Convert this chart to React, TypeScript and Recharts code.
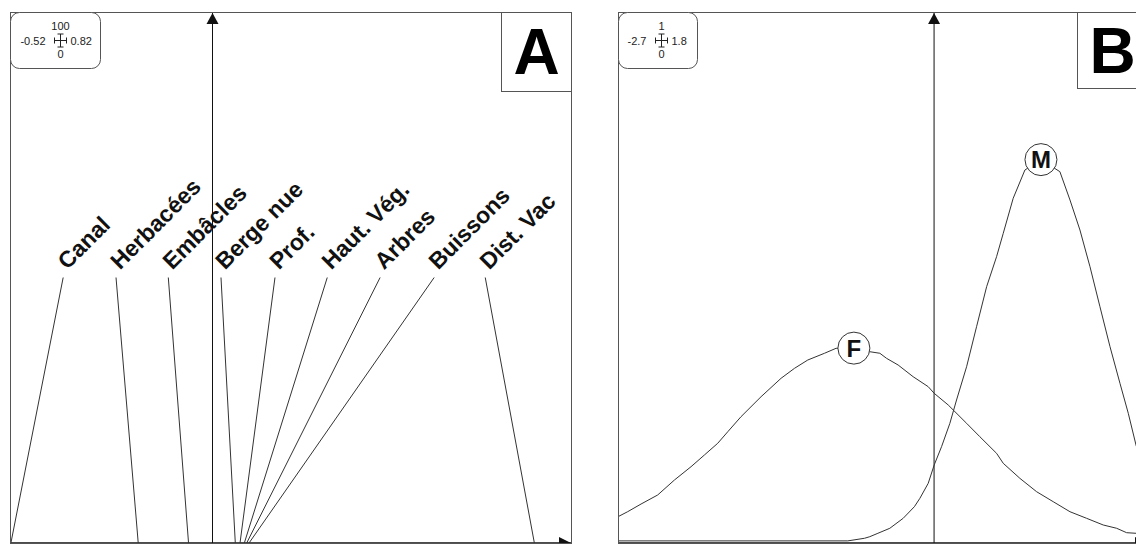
import React from 'react';
import { ComposedChart, Line, Scatter, XAxis, YAxis, ReferenceLine } from 'recharts';

// panel A: variable scores and the evenly spread label slots
const varNames = ['Canal', 'Herbacées', 'Embâcles', 'Berge nue', 'Prof.', 'Haut. Vég.', 'Arbres', 'Buissons', 'Dist. Vac'];
const varScores = [-0.513, -0.189, -0.061, 0.058, 0.07, 0.081, 0.087, 0.093, 0.819];
const varSlots = [-0.38, -0.2455, -0.1125, 0.0216, 0.159, 0.292, 0.4265, 0.564, 0.694];
const slotHeight = 50;
const rangeA = ['-0.52', '0.82', '0', '100'];

// panel B: gaussian curves of the two groups
const groupNames = ['F', 'M'];
const fX = [-2.7, -2.617, -2.503, -2.361, -2.218, -2.076, -1.962, -1.848, -1.762, -1.649, -1.478, -1.307, -1.192, -1.079, -0.936, -0.837, -0.685, -0.551, -0.463, -0.406, -0.307, -0.179, -0.05, 0.001, 0.121, 0.278, 0.391, 0.534, 0.591, 0.733, 0.876, 1.018, 1.161, 1.303, 1.445, 1.56, 1.645, 1.725, 1.8];
const fY = [0.0495, 0.059, 0.0734, 0.0904, 0.1186, 0.1437, 0.1657, 0.1878, 0.2096, 0.2379, 0.2755, 0.3102, 0.329, 0.3446, 0.3573, 0.3667, 0.367, 0.3603, 0.3573, 0.3478, 0.3352, 0.3132, 0.2944, 0.2819, 0.2599, 0.2254, 0.2002, 0.1689, 0.1501, 0.1218, 0.0966, 0.0778, 0.0589, 0.0465, 0.0339, 0.0277, 0.0194, 0.0183, 0.015];
const mX = [-2.7, -0.737, -0.594, -0.549, -0.48, -0.378, -0.264, -0.168, -0.121, -0.05, 0.001, 0.064, 0.135, 0.192, 0.278, 0.363, 0.449, 0.534, 0.591, 0.676, 0.776, 0.913, 1.075, 1.161, 1.246, 1.332, 1.417, 1.503, 1.588, 1.659, 1.725, 1.8];
const mY = [0.004, 0.004, 0.0089, 0.0119, 0.0183, 0.0277, 0.0465, 0.0684, 0.0842, 0.1124, 0.1469, 0.1814, 0.2254, 0.2693, 0.332, 0.4073, 0.4827, 0.5392, 0.5832, 0.6492, 0.7024, 0.722, 0.6993, 0.646, 0.5895, 0.5203, 0.445, 0.3697, 0.3008, 0.2443, 0.1846, 0.13];
const groupPeaks = [{ x: -0.685, y: 0.367 }, { x: 0.913, y: 0.722 }];
const rangeB = ['-2.7', '1.8', '0', '1'];

const FONT = '"Liberation Sans", Arial, Helvetica, sans-serif';
const INK = '#222';
const EDGE = '#555';

const domainA: [number, number] = [-0.5153, 0.9122];
const domainB: [number, number] = [-2.7, 1.819];

const fData = fX.map((x, i) => ({ x, y: fY[i] }));
const mData = mX.map((x, i) => ({ x, y: mY[i] }));

const arrowShape = (p: any) => {
  const { cx, cy, payload } = p;
  if (payload.dir === 'up') {
    return <polygon points={`${cx},${cy + 1} ${cx - 6},${cy + 12} ${cx + 6},${cy + 12}`} fill="#111" />;
  }
  return <polygon points={`${cx},${cy} ${cx - 12},${cy - 6} ${cx - 12},${cy + 6}`} fill="#111" />;
};

const slotLabel = (p: any) => {
  const { cx, cy, payload } = p;
  const x = cx + 4;
  const y = cy - 7;
  return (
    <text x={x} y={y} transform={`rotate(-45 ${x} ${y})`} fontFamily={FONT} fontWeight="bold" fontSize={23} fill="#111">
      {payload.name}
    </text>
  );
};

const peakLabel = (p: any) => {
  const { cx, cy, payload } = p;
  return (
    <g>
      <circle cx={cx} cy={cy} r={16} fill="#fff" stroke="#333" strokeWidth={1} />
      <text x={cx} y={cy + 8.5} textAnchor="middle" fontFamily={FONT} fontWeight="bold" fontSize={24} fill="#111">
        {payload.name}
      </text>
    </g>
  );
};

const RangeBox = ({ x, w, cx, labels }: { x: number; w: number; cx: number; labels: string[] }) => (
  <g fontFamily={FONT} fontSize={11} fill={INK}>
    <rect x={x} y={12.5} width={w} height={56} rx={9} fill="#fff" stroke={EDGE} />
    <text x={cx} y={29.5} textAnchor="middle">{labels[3]}</text>
    <text x={cx - 15} y={44.5} textAnchor="end">{labels[0]}</text>
    <text x={cx + 10} y={44.5} textAnchor="start">{labels[1]}</text>
    <text x={cx} y={57.5} textAnchor="middle">{labels[2]}</text>
    <g stroke={INK} strokeWidth={1}>
      <line x1={cx - 6} y1={40.5} x2={cx + 6} y2={40.5} />
      <line x1={cx - 6} y1={37.5} x2={cx - 6} y2={43.5} />
      <line x1={cx + 6} y1={37.5} x2={cx + 6} y2={43.5} />
      <line x1={cx} y1={34} x2={cx} y2={47} />
      <line x1={cx - 3} y1={34} x2={cx + 3} y2={34} />
      <line x1={cx - 3} y1={47} x2={cx + 3} y2={47} />
    </g>
  </g>
);

const PanelA = () => (
  <div style={{ position: 'absolute', left: 0, top: 0 }}>
    <ComposedChart width={580} height={545} margin={{ top: 12, right: 9, bottom: 2, left: 10 }}>
      <XAxis type="number" dataKey="x" domain={domainA} hide allowDataOverflow />
      <YAxis type="number" dataKey="y" domain={[0, 100]} hide allowDataOverflow />
      <ReferenceLine x={0} stroke="#111" strokeWidth={1} />
      <ReferenceLine y={0} stroke="#111" strokeWidth={1.5} />
      {varNames.map((name, i) => (
        <Line
          key={name}
          data={[{ x: varScores[i], y: 0 }, { x: varSlots[i], y: slotHeight }]}
          dataKey="y"
          type="linear"
          stroke="#333"
          strokeWidth={1}
          dot={false}
          activeDot={false}
          isAnimationActive={false}
        />
      ))}
      <Scatter
        data={varNames.map((name, i) => ({ x: varSlots[i], y: slotHeight, name }))}
        shape={slotLabel}
        isAnimationActive={false}
      />
      <Scatter
        data={[{ x: 0, y: 100, dir: 'up' }, { x: domainA[1], y: 0, dir: 'right' }]}
        shape={arrowShape}
        isAnimationActive={false}
      />
    </ComposedChart>
    <svg width={580} height={545} style={{ position: 'absolute', left: 0, top: 0, pointerEvents: 'none' }}>
      <rect x={10.5} y={12.5} width={561} height={531} fill="none" stroke={EDGE} />
      <RangeBox x={10.5} w={90} cx={60.5} labels={rangeA} />
      <rect x={501.5} y={12.5} width={70} height={79} fill="#fff" stroke={EDGE} />
      <text x={536.5} y={74} textAnchor="middle" fontFamily={FONT} fontWeight="bold" fontSize={64} fill="#000">A</text>
    </svg>
  </div>
);

const PanelB = () => (
  <div style={{ position: 'absolute', left: 600, top: 0 }}>
    <ComposedChart width={560} height={545} margin={{ top: 12, right: 13, bottom: 2, left: 18 }}>
      <XAxis type="number" dataKey="x" domain={domainB} hide allowDataOverflow />
      <YAxis type="number" dataKey="y" domain={[0, 1]} hide allowDataOverflow />
      <ReferenceLine x={0} stroke="#111" strokeWidth={1} />
      <ReferenceLine y={0} stroke="#111" strokeWidth={1.5} />
      <Line data={fData} dataKey="y" type="linear" stroke="#333" strokeWidth={1} dot={false} activeDot={false} isAnimationActive={false} />
      <Line data={mData} dataKey="y" type="linear" stroke="#333" strokeWidth={1} dot={false} activeDot={false} isAnimationActive={false} />
      <Scatter
        data={groupNames.map((name, i) => ({ ...groupPeaks[i], name }))}
        shape={peakLabel}
        isAnimationActive={false}
      />
      <Scatter
        data={[{ x: 0, y: 1, dir: 'up' }, { x: domainB[1], y: 0, dir: 'right' }]}
        shape={arrowShape}
        isAnimationActive={false}
      />
    </ComposedChart>
    <svg width={560} height={545} style={{ position: 'absolute', left: 0, top: 0, pointerEvents: 'none' }}>
      <rect x={18.5} y={12.5} width={529} height={531} fill="none" stroke={EDGE} />
      <RangeBox x={18.5} w={79} cx={61.5} labels={rangeB} />
      <rect x={477.5} y={12.5} width={70} height={76} fill="#fff" stroke={EDGE} />
      <text x={512.5} y={73} textAnchor="middle" fontFamily={FONT} fontWeight="bold" fontSize={64} fill="#000">B</text>
    </svg>
  </div>
);

export default function App() {
  return (
    <div style={{ position: 'absolute', left: 0, top: 0, width: 1136, height: 545, overflow: 'hidden', background: '#fff' }}>
      <PanelA />
      <PanelB />
    </div>
  );
}
